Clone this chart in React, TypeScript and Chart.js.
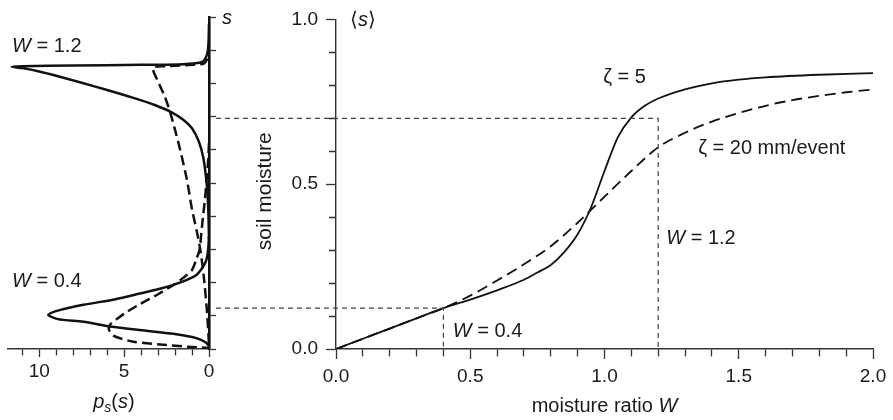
import React, { useEffect, useRef } from 'react';
import { Chart, registerables } from 'chart.js';
Chart.register(...registerables);

// ---------- Right panel: mean soil moisture vs moisture ratio ----------
const W_ZETA5 = [0, 0.1, 0.2, 0.3, 0.4, 0.5, 0.6, 0.7, 0.75, 0.8, 0.85, 0.9, 0.95, 1.0, 1.05, 1.1, 1.15, 1.2, 1.3, 1.4, 1.5, 1.6, 1.8, 2.0];
const S_ZETA5 = [0, 0.031, 0.062, 0.093, 0.124, 0.15, 0.178, 0.21, 0.232, 0.255, 0.294, 0.348, 0.43, 0.54, 0.643, 0.703, 0.738, 0.76, 0.788, 0.806, 0.817, 0.824, 0.832, 0.837];
const W_ZETA20 = [0, 0.1, 0.2, 0.3, 0.4, 0.5, 0.6, 0.7, 0.8, 0.9, 1.0, 1.1, 1.2, 1.3, 1.4, 1.5, 1.6, 1.7, 1.8, 1.9, 2.0];
const S_ZETA20 = [0, 0.031, 0.062, 0.093, 0.124, 0.162, 0.208, 0.257, 0.312, 0.383, 0.462, 0.54, 0.612, 0.656, 0.69, 0.716, 0.738, 0.755, 0.768, 0.779, 0.787];

// reference (dotted) lines: W value and corresponding <s>
const REF_W = [0.4, 1.2];
const REF_S = [0.124, 0.70];
const REF_LEFT_W = -0.447; // left end of the horizontal guide, reaching the s-axis of left panel

// ---------- Left panel: pdf p_s(s) ----------
const P_W12_SOLID = [0, 0.03, 0.1, 0.25, 0.5, 1.5, 4, 8, 11.0, 11.63, 11.0, 10.0, 9.0, 7.5, 6.0, 4.5, 3.2, 2.2, 1.5, 1.0, 0.6, 0.35, 0.18, 0.08, 0.03, 0];
const S_W12_SOLID = [0.98, 0.92, 0.89, 0.872, 0.863, 0.858, 0.856, 0.854, 0.852, 0.85, 0.846, 0.836, 0.823, 0.802, 0.78, 0.757, 0.735, 0.713, 0.69, 0.665, 0.625, 0.58, 0.52, 0.46, 0.4, 0.33];
const P_W12_DASH = [0, 0.1, 0.3, 1.0, 2.5, 3.3, 2.95, 2.6, 2.3, 2.0, 1.7, 1.3, 1.0, 0.72, 0.5, 0.3, 0.13, 0.04, 0];
const S_W12_DASH = [0.92, 0.875, 0.86, 0.856, 0.852, 0.847, 0.8, 0.76, 0.715, 0.66, 0.6, 0.51, 0.42, 0.355, 0.295, 0.215, 0.12, 0.05, 0.01];
const P_W04_SOLID = [0, 0.04, 0.12, 0.24, 0.45, 0.72, 1.3, 2.1, 3.0, 4.07, 5.5, 7.4, 8.8, 9.47, 8.9, 7.4, 5.83, 4.07, 2.1, 1.0, 0.5, 0.15, 0];
const S_W04_SOLID = [0.34, 0.305, 0.275, 0.258, 0.24, 0.224, 0.208, 0.193, 0.18, 0.167, 0.15, 0.133, 0.117, 0.103, 0.09, 0.082, 0.068, 0.057, 0.046, 0.036, 0.028, 0.018, 0.008];
const P_W04_DASH = [0, 0.06, 0.14, 0.24, 0.34, 0.45, 0.55, 0.75, 1.0, 1.5, 2.1, 3.0, 4.07, 4.8, 5.3, 5.8, 5.9, 5.64, 4.46, 2.5, 1.0, 0];
const S_W04_DASH = [0.62, 0.56, 0.51, 0.45, 0.405, 0.35, 0.3, 0.27, 0.238, 0.215, 0.193, 0.165, 0.135, 0.113, 0.095, 0.075, 0.06, 0.04, 0.022, 0.012, 0.006, 0.003];

const FONT = "'Liberation Sans', Arial, sans-serif";
const TEXT = '#1a1a1a';
const AXIS = '#333';
const TICK_FONT = 19;
const NOTE_FONT = 20;

type Run = { t: string; i?: boolean; sub?: boolean };

const pts = (xs: number[], ys: number[]) => xs.map((x, i) => ({ x, y: ys[i] }));

function drawRuns(ctx: CanvasRenderingContext2D, runs: Run[], x: number, y: number, size: number, align: 'left' | 'center') {
  ctx.save();
  ctx.textBaseline = 'middle';
  ctx.textAlign = 'left';
  ctx.fillStyle = TEXT;
  const f = (r: Run) => `${r.i ? 'italic ' : ''}${r.sub ? Math.round(size * 0.72) : size}px ${FONT}`;
  let total = 0;
  for (const r of runs) { ctx.font = f(r); total += ctx.measureText(r.t).width; }
  let cx = align === 'center' ? x - total / 2 : x;
  for (const r of runs) {
    ctx.font = f(r);
    ctx.fillText(r.t, cx, r.sub ? y + size * 0.3 : y);
    cx += ctx.measureText(r.t).width;
  }
  ctx.restore();
}

const isMult = (v: number, m: number) => Math.abs(v / m - Math.round(v / m)) < 1e-6;

function axisCommon(majorStep: number, minorDash: number[], tickLen: number) {
  return {
    grid: {
      drawOnChartArea: false,
      drawTicks: true,
      tickLength: tickLen,
      tickWidth: 1.3,
      tickColor: AXIS,
      tickBorderDash: (ctx: any) => (ctx.tick && isMult(ctx.tick.value, majorStep) ? [] : minorDash),
    },
    border: { display: true, color: AXIS, width: 1.4 },
  };
}

export default function App() {
  const leftRef = useRef<HTMLCanvasElement>(null);
  const rightRef = useRef<HTMLCanvasElement>(null);

  useEffect(() => {
    const leftNotes = {
      id: 'leftNotes',
      afterDraw(chart: any) {
        const { ctx, scales, chartArea } = chart;
        const x = scales.x, y = scales.y;
        drawRuns(ctx, [{ t: 'W', i: true }, { t: ' = 1.2' }], x.getPixelForValue(11.6), y.getPixelForValue(0.91), NOTE_FONT, 'left');
        drawRuns(ctx, [{ t: 'W', i: true }, { t: ' = 0.4' }], x.getPixelForValue(11.6), y.getPixelForValue(0.203), NOTE_FONT, 'left');
        drawRuns(ctx, [{ t: 's', i: true }], chartArea.right + 18, chartArea.top + 1, NOTE_FONT, 'center');
        drawRuns(ctx, [{ t: 'p', i: true }, { t: 's', i: true, sub: true }, { t: '(' }, { t: 's', i: true }, { t: ')' }], x.getPixelForValue(5.6), chartArea.bottom + 53, NOTE_FONT, 'center');
      },
    };

    const rightNotes = {
      id: 'rightNotes',
      afterDraw(chart: any) {
        const { ctx, scales, chartArea } = chart;
        const x = scales.x, y = scales.y;
        drawRuns(ctx, [{ t: 'ζ = 5' }], x.getPixelForValue(0.995), y.getPixelForValue(0.825), NOTE_FONT, 'left');
        drawRuns(ctx, [{ t: 'ζ = 20 mm/event' }], x.getPixelForValue(1.349), y.getPixelForValue(0.607), NOTE_FONT, 'left');
        drawRuns(ctx, [{ t: 'W', i: true }, { t: ' = 0.4' }], x.getPixelForValue(0.435), y.getPixelForValue(0.052), NOTE_FONT, 'left');
        drawRuns(ctx, [{ t: 'W', i: true }, { t: ' = 1.2' }], x.getPixelForValue(1.23), y.getPixelForValue(0.334), NOTE_FONT, 'left');
        drawRuns(ctx, [{ t: '⟨' }, { t: 's', i: true }, { t: '⟩' }], chartArea.left + 14, chartArea.top + 1, NOTE_FONT, 'left');
        drawRuns(ctx, [{ t: 'moisture ratio ' }, { t: 'W', i: true }], (chartArea.left + chartArea.right) / 2, chartArea.bottom + 57, NOTE_FONT, 'center');
        ctx.save();
        ctx.translate(chartArea.left - 71, (chartArea.top + chartArea.bottom) / 2 + 7);
        ctx.rotate(-Math.PI / 2);
        drawRuns(ctx, [{ t: 'soil moisture' }], 0, 0, 21, 'center');
        ctx.restore();
      },
    };

    const leftSolid = { borderColor: '#111', borderWidth: 2.5, pointRadius: 0, tension: 0.25, fill: false };
    const leftDash = { ...leftSolid, borderDash: [10, 5] };

    const left = new Chart(leftRef.current!, {
      type: 'line',
      data: {
        datasets: [
          { ...leftSolid, data: pts(P_W12_SOLID, S_W12_SOLID) },
          { ...leftDash, data: pts(P_W12_DASH, S_W12_DASH) },
          { ...leftSolid, data: pts(P_W04_SOLID, S_W04_SOLID) },
          { ...leftDash, data: pts(P_W04_DASH, S_W04_DASH) },
        ] as any,
      },
      options: {
        animation: false,
        responsive: false,
        devicePixelRatio: 1,
        layout: { padding: { left: 8, top: 17, right: 0, bottom: 0 } },
        plugins: { legend: { display: false }, tooltip: { enabled: false } },
        scales: {
          x: {
            type: 'linear',
            reverse: true,
            min: 0,
            max: 11.84,
            afterFit: (s: any) => { s.height = 71; },
            ticks: {
              stepSize: 1,
              includeBounds: false,
              autoSkip: false,
              maxRotation: 0,
              padding: 3,
              color: TEXT,
              font: { family: FONT, size: TICK_FONT },
              callback: (v: any) => (isMult(Number(v), 5) ? String(Math.round(Number(v))) : ''),
            },
            ...axisCommon(5, [6, 30], 8),
          },
          y: {
            type: 'linear',
            position: 'right',
            min: 0,
            max: 1,
            afterFit: (s: any) => { s.width = 31; },
            ticks: { stepSize: 0.1, display: false, autoSkip: false },
            grid: { drawOnChartArea: false, drawTicks: true, tickLength: 7, tickWidth: 1.3, tickColor: AXIS },
            border: { display: true, color: '#111', width: 2.6 },
          },
        },
      } as any,
      plugins: [leftNotes],
    });

    const refDash = { borderColor: '#444', borderWidth: 1.2, borderDash: [5, 4], pointRadius: 0, tension: 0, fill: false, clip: false };
    const right = new Chart(rightRef.current!, {
      type: 'line',
      data: {
        datasets: [
          {
            ...refDash,
            data: [{ x: REF_LEFT_W, y: REF_S[0] }, { x: REF_W[0], y: REF_S[0] }, { x: REF_W[0], y: 0 }],
          },
          {
            ...refDash,
            data: [{ x: REF_LEFT_W, y: REF_S[1] }, { x: REF_W[1], y: REF_S[1] }, { x: REF_W[1], y: 0 }],
          },
          {
            data: pts(W_ZETA5, S_ZETA5),
            borderColor: '#111', borderWidth: 1.8, pointRadius: 0, cubicInterpolationMode: 'monotone', fill: false,
          },
          {
            data: pts(W_ZETA20, S_ZETA20),
            borderColor: '#111', borderWidth: 1.8, borderDash: [11, 6], pointRadius: 0, cubicInterpolationMode: 'monotone', fill: false,
          },
        ] as any,
      },
      options: {
        animation: false,
        responsive: false,
        devicePixelRatio: 1,
        layout: { padding: { left: 0, top: 17, right: 20, bottom: 0 } },
        plugins: { legend: { display: false }, tooltip: { enabled: false } },
        scales: {
          x: {
            type: 'linear',
            min: 0,
            max: 2,
            afterFit: (s: any) => { s.height = 71; },
            ticks: {
              stepSize: 0.1,
              autoSkip: false,
              maxRotation: 0,
              padding: 6,
              color: TEXT,
              font: { family: FONT, size: TICK_FONT },
              callback: (v: any) => (isMult(Number(v), 0.5) ? Number(v).toFixed(1) : ''),
            },
            ...axisCommon(0.5, [7, 30], 10),
          },
          y: {
            type: 'linear',
            min: 0,
            max: 1,
            afterFit: (s: any) => { s.width = 120; },
            ticks: {
              stepSize: 0.1,
              autoSkip: false,
              padding: 8,
              color: TEXT,
              font: { family: FONT, size: TICK_FONT },
              callback: (v: any) => (isMult(Number(v), 0.5) ? Number(v).toFixed(1) : ''),
            },
            // left-axis ticks are stroked from their outer end toward the axis: skip the first 3px
            ...axisCommon(0.5, [0, 3, 7, 30], 10),
          },
        },
      } as any,
      plugins: [rightNotes],
    });

    return () => {
      left.destroy();
      right.destroy();
    };
  }, []);

  return (
    <div style={{ position: 'absolute', left: 0, top: 0, width: 893, height: 420, background: '#fff' }}>
      <canvas ref={rightRef} width={677} height={420} style={{ position: 'absolute', left: 216, top: 0, width: 677, height: 420 }} />
      <canvas ref={leftRef} width={240} height={420} style={{ position: 'absolute', left: 0, top: 0, width: 240, height: 420 }} />
    </div>
  );
}
